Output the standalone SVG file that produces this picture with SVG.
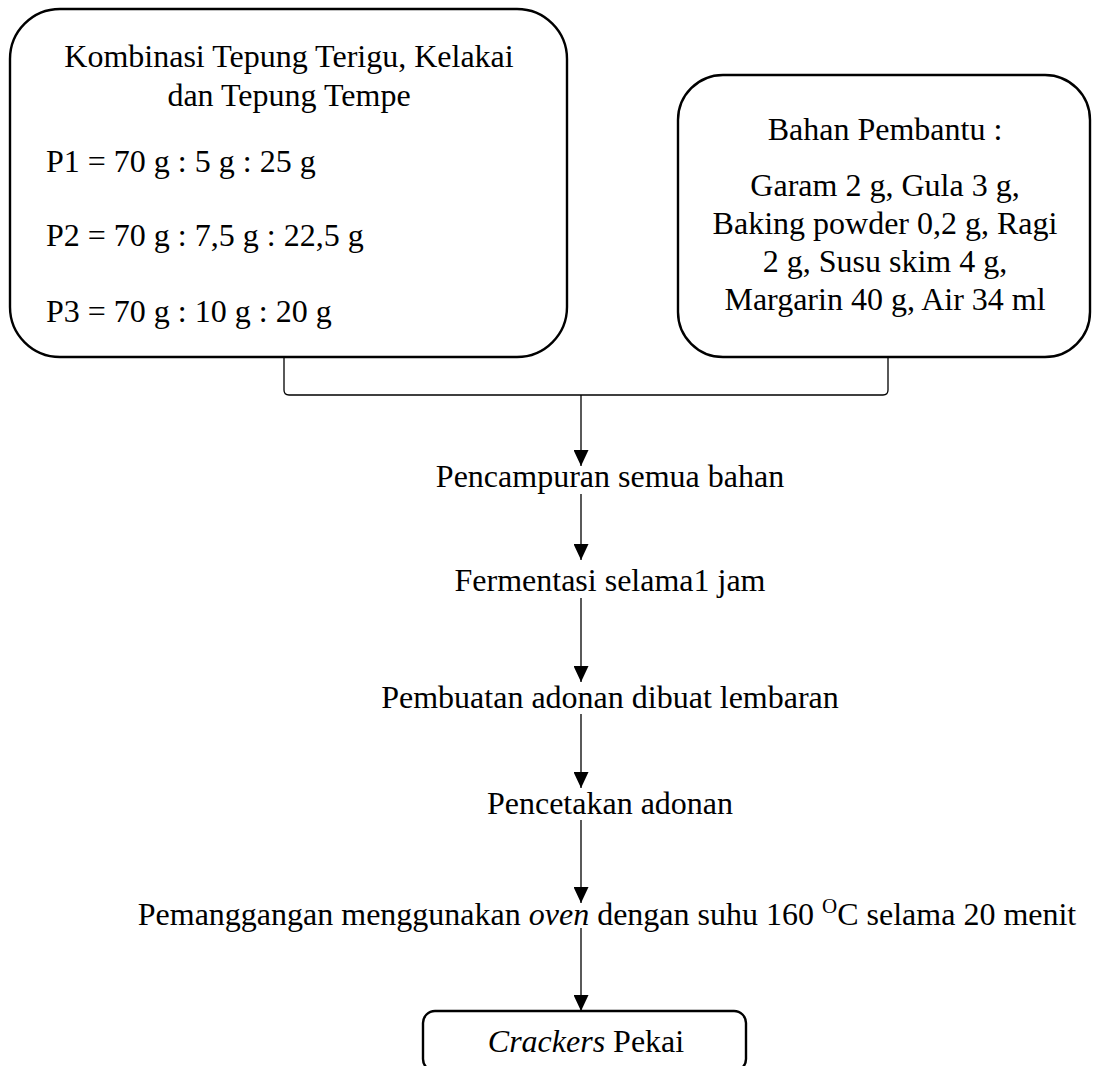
<svg xmlns="http://www.w3.org/2000/svg" width="1093" height="1066" viewBox="0 0 1093 1066">
<style>
.box{fill:#fff;stroke:#000;stroke-width:2.4}
.t{font-family:"Liberation Serif","Times New Roman",serif;font-size:32px;fill:#000}
.c{text-anchor:middle}
.conn{fill:none;stroke:#000;stroke-width:1.3}
</style>
<defs>
<marker id="ah" viewBox="0 0 16 15" refX="16" refY="7.5" markerWidth="16" markerHeight="15" markerUnits="userSpaceOnUse" orient="auto">
<path d="M0,0 L16,7.5 L0,15 z" fill="#000"/>
</marker>
</defs>
<rect width="1093" height="1066" fill="#fff"/>
<g id="connectors">
<path class="conn" d="M284,357 L284,390 Q284,395 289,395 L883,395 Q888,395 888,390 L888,357"/>
<line class="conn" x1="581" y1="395" x2="581" y2="466" marker-end="url(#ah)"/>
<line class="conn" x1="581" y1="494" x2="581" y2="560" marker-end="url(#ah)"/>
<line class="conn" x1="581" y1="598" x2="581" y2="682" marker-end="url(#ah)"/>
<line class="conn" x1="581" y1="714" x2="581" y2="788" marker-end="url(#ah)"/>
<line class="conn" x1="581" y1="820" x2="581" y2="903" marker-end="url(#ah)"/>
<line class="conn" x1="581" y1="928" x2="581" y2="1011" marker-end="url(#ah)"/>
</g>
<g id="node-bahan-utama">
<rect class="box" x="10" y="9" width="557" height="348" rx="50" ry="50"/>
<text class="t c" x="289" y="67">Kombinasi Tepung Terigu, Kelakai</text>
<text class="t c" x="289" y="106">dan Tepung Tempe</text>
<text class="t" x="46" y="172">P1 = 70 g : 5 g : 25 g</text>
<text class="t" x="46" y="246">P2 = 70 g : 7,5 g : 22,5 g</text>
<text class="t" x="46" y="322">P3 = 70 g : 10 g : 20 g</text>
</g>
<g id="node-bahan-pembantu">
<rect class="box" x="678" y="75" width="412" height="282" rx="45" ry="45"/>
<text class="t c" x="885" y="140">Bahan Pembantu :</text>
<text class="t c" x="885" y="196">Garam 2 g, Gula 3 g,</text>
<text class="t c" x="885" y="234">Baking powder 0,2 g, Ragi</text>
<text class="t c" x="885" y="272">2 g, Susu skim 4 g,</text>
<text class="t c" x="885" y="310">Margarin 40 g, Air 34 ml</text>
</g>
<g id="node-pencampuran">
<text class="t c" x="610" y="487">Pencampuran semua bahan</text>
</g>
<g id="node-fermentasi">
<text class="t c" x="610" y="591">Fermentasi selama1 jam</text>
</g>
<g id="node-pembuatan">
<text class="t c" x="610" y="708">Pembuatan adonan dibuat lembaran</text>
</g>
<g id="node-pencetakan">
<text class="t c" x="610" y="814">Pencetakan adonan</text>
</g>
<g id="node-pemanggangan">
<text class="t c" x="607" y="925">Pemanggangan menggunakan <tspan font-style="italic">oven</tspan> dengan suhu 160 <tspan dy="-12" font-size="21">O</tspan><tspan dy="12">C selama 20 menit</tspan></text>
</g>
<g id="node-crackers">
<rect class="box" x="423" y="1011" width="323" height="60" rx="12" ry="12"/>
<text class="t c" x="586" y="1052"><tspan font-style="italic">Crackers</tspan>  Pekai</text>
</g>
</svg>
